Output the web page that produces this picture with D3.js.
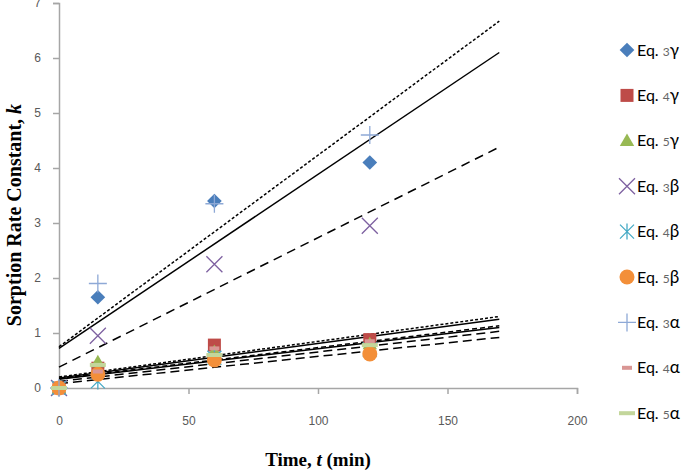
<!DOCTYPE html>
<html lang="en">
<head>
<meta charset="UTF-8">
<title>Sorption Rate Constant</title>
<script src="https://d3js.org/d3.v7.min.js"></script>
<style>
    body { margin: 0; background: white; }
    .tick text { fill: #595959; font-family: "Liberation Sans", Arial, sans-serif; font-size: 12px; }
    .axis path, .axis line { stroke: #a6a6a6; stroke-width: 1.5px; }
    .title { font-family: "Liberation Serif", "Times New Roman", serif; font-weight: bold; font-size: 19px; }
    .legend text { font-family: Lato, "Open Sans", sans-serif; font-size: 16px; }
</style>
</head>
<body>
<svg id="canvas" width="691" height="476"></svg>
<script>
    // sampling times (min)
    let times = [0, 15, 60, 120]

    // measured k for each equation
    let eq3g = [0, 1.65, 3.4, 4.1]
    let eq4g = [0, 0.36, 0.78, 0.88]
    let eq5g = [0, 0.47, 0.66, 0.8]
    let eq3b = [0, 0.95, 2.25, 2.95]
    let eq4b = [0, 0.12, 0.55, 0.7]
    let eq5b = [0, 0.25, 0.51, 0.62]
    let eq3a = [0, 1.9, 3.35, 4.6]
    let eq4a = [0, 0.3, 0.72, 0.85]
    let eq5a = [0, 0.42, 0.6, 0.78]

    let seriesNames = ["3γ", "4γ", "5γ", "3β", "4β", "5β", "3α", "4α", "5α"]
    let seriesValues = [eq3g, eq4g, eq5g, eq3b, eq4b, eq5b, eq3a, eq4a, eq5a]

    // trend lines: value at t=0 and at t=170
    let trendStart = [0.75, 0.72, 0.38, 0.2, 0.18, 0.17, 0.16, 0.12, 0.08]
    let trendEnd = [6.67, 6.1, 4.38, 1.30, 1.25, 1.13, 1.10, 1.03, 0.92]
    let trendDash = ["3,2", null, "9,6", "3,2", null, "5,3", null, "9,5", "9,5"]
    let trendX = [0, 170]

    let xTicks = [0, 50, 100, 150, 200]
    let yTicks = [0, 1, 2, 3, 4, 5, 6, 7]

    let svg = d3.select('#canvas')

    let x = d3.scaleLinear().domain([0, 200]).range([59, 577])
    let y = d3.scaleLinear().domain([0, 7]).range([388, 3])

    svg.append('g')
        .attr('class', 'axis')
        .attr('transform', 'translate(0,388)')
        .call(d3.axisBottom(x).tickValues(xTicks).tickFormat(d3.format('d')).tickSize(6).tickSizeOuter(6).tickPadding(22))

    svg.append('g')
        .attr('class', 'axis')
        .attr('transform', 'translate(59,0)')
        .call(d3.axisLeft(y).tickValues(yTicks).tickFormat(d3.format('d')).tickSize(6).tickSizeOuter(6).tickPadding(12))

    // trend lines
    let line = d3.line().x(d => x(d[0])).y(d => y(d[1]))
    let lineLayer = svg.append('g')
    trendStart.forEach(function (s, i) {
        lineLayer.append('path')
            .attr('d', line([[trendX[0], s], [trendX[1], trendEnd[i]]]))
            .attr('fill', 'none')
            .attr('stroke', 'black')
            .attr('stroke-width', 1.5)
            .attr('stroke-dasharray', trendDash[i])
    })

    let colors = ["#4a7ebb", "#be4b48", "#98b954", "#7d60a0", "#46aac5", "#f38f39", "#8ea9d6", "#d99694", "#c3d69b"]

    function drawMarker(g, i, cx, cy) {
        let c = colors[i]
        if (i == 0) {
            g.append('rect').attr('x', -5.2).attr('y', -5.2).attr('width', 10.4).attr('height', 10.4)
                .attr('transform', `translate(${cx},${cy}) rotate(45)`).attr('fill', c)
        } else if (i == 1) {
            g.append('rect').attr('x', cx - 6.5).attr('y', cy - 6.5).attr('width', 13).attr('height', 13).attr('fill', c)
        } else if (i == 2) {
            g.append('path').attr('d', d3.symbol(d3.symbolTriangle, 90)()).attr('transform', `translate(${cx},${cy + 1})`).attr('fill', c)
        } else if (i == 3) {
            g.append('path').attr('d', `M${cx - 8},${cy - 8}L${cx + 8},${cy + 8}M${cx - 8},${cy + 8}L${cx + 8},${cy - 8}`).attr('stroke', c).attr('stroke-width', 1.3)
        } else if (i == 4) {
            g.append('path').attr('d', `M${cx - 7},${cy - 7}L${cx + 7},${cy + 7}M${cx - 7},${cy + 7}L${cx + 7},${cy - 7}M${cx},${cy - 8}L${cx},${cy + 8}`).attr('stroke', c).attr('stroke-width', 1.3)
        } else if (i == 5) {
            g.append('circle').attr('cx', cx).attr('cy', cy).attr('r', 7.5).attr('fill', c)
        } else if (i == 6) {
            g.append('path').attr('d', `M${cx - 9},${cy}L${cx + 9},${cy}M${cx},${cy - 9}L${cx},${cy + 9}`).attr('stroke', c).attr('stroke-width', 1.3)
        } else if (i == 7) {
            g.append('rect').attr('x', cx - 5).attr('y', cy - 2).attr('width', 10).attr('height', 4).attr('fill', c)
        } else {
            g.append('rect').attr('x', cx - 8).attr('y', cy - 2).attr('width', 16).attr('height', 4).attr('fill', c)
        }
    }

    // data points
    let pointLayer = svg.append('g')
    seriesValues.forEach(function (vals, i) {
        vals.forEach(function (v, j) {
            drawMarker(pointLayer, i, x(times[j]), y(v))
        })
    })

    // legend
    let legend = svg.append('g').attr('class', 'legend')
    seriesNames.forEach(function (name, i) {
        let ly = 50 + i * 45.4
        drawMarker(legend, i, 627, ly)
        let t = legend.append('text').attr('x', 637).attr('y', ly + 5.5)
        t.append('tspan').text('Eq. ')
        t.append('tspan').attr('fill', '#666').attr('font-size', '12px').text(name[0])
        t.append('tspan').attr('font-size', '17px').text(name[1])
    })

    svg.append('text')
        .attr('class', 'title')
        .attr('x', 318).attr('y', 466)
        .attr('text-anchor', 'middle')
        .html('Time, <tspan font-style="italic">t</tspan> (min)')

    svg.append('text')
        .attr('class', 'title')
        .attr('font-size', '20px')
        .attr('transform', 'translate(21,215) rotate(-90)')
        .attr('text-anchor', 'middle')
        .style('font-size', '20px')
        .html('Sorption Rate Constant, <tspan font-style="italic">k</tspan>')
</script>
</body>
</html>
